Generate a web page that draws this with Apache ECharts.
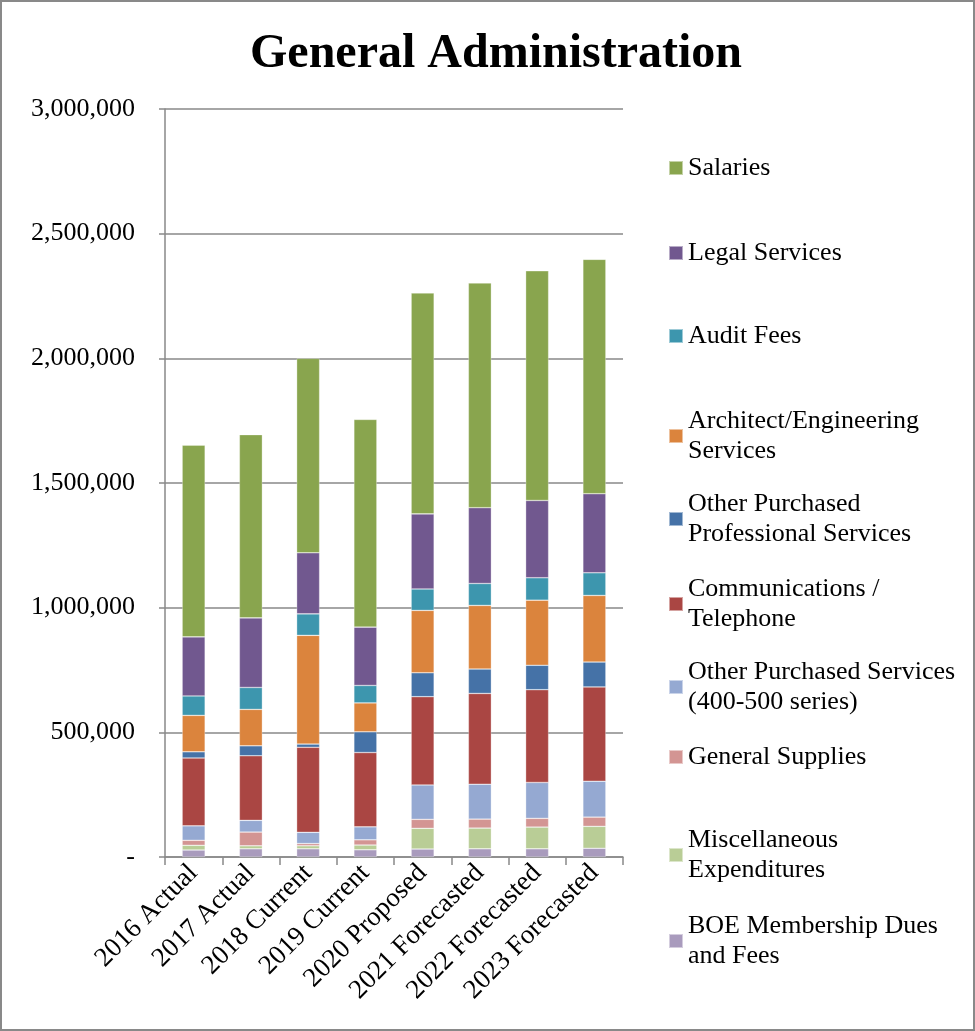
<!DOCTYPE html>
<html>
<head>
<meta charset="utf-8">
<script src="https://cdn.jsdelivr.net/npm/echarts@6/dist/echarts.min.js"></script>
<style>
html,body{margin:0;padding:0;background:#fff;}
#main{width:975px;height:1031px;}
</style>
</head>
<body>
<div id="main"></div>
<script>
// categories and values
var years = ['2016 Actual','2017 Actual','2018 Current','2019 Current','2020 Proposed','2021 Forecasted','2022 Forecasted','2023 Forecasted'];

var boeDues      = [28000, 33000, 33000, 29000, 32000, 33000, 33000, 35000];
var miscExp      = [19000, 12000, 12000, 19000, 83000, 83000, 87000, 88000];
var genSupplies  = [20000, 55000, 9000, 21000, 36000, 36000, 35000, 37000];
var otherPurch   = [58000, 47000, 45000, 52000, 138000, 140000, 144000, 144000];
var communic     = [272000, 259000, 341000, 298000, 354000, 364000, 372000, 378000];
var otherProf    = [25000, 40000, 13000, 83000, 96000, 98000, 98000, 100000];
var archEng      = [146000, 146000, 436000, 116000, 250000, 255000, 261000, 267000];
var auditFees    = [78000, 88000, 86000, 70000, 86000, 88000, 90000, 91000];
var legalServ    = [237000, 279000, 245000, 234000, 301000, 304000, 310000, 317000];
var salaries     = [769000, 735000, 780000, 833000, 886000, 901000, 921000, 940000];

var yTicks = [0, 500000, 1000000, 1500000, 2000000, 2500000, 3000000];

// stacked bottom -> top
var seriesList = [
	{name:'BOE Membership Dues and Fees', label:'BOE Membership Dues\nand Fees', data:boeDues, color:'#A99BBD'},
	{name:'Miscellaneous Expenditures', label:'Miscellaneous\nExpenditures', data:miscExp, color:'#B9CD96'},
	{name:'General Supplies', label:'General Supplies', data:genSupplies, color:'#D39593'},
	{name:'Other Purchased Services (400-500 series)', label:'Other Purchased Services\n(400-500 series)', data:otherPurch, color:'#95A9D2'},
	{name:'Communications / Telephone', label:'Communications /\nTelephone', data:communic, color:'#AA4643'},
	{name:'Other Purchased Professional Services', label:'Other Purchased\nProfessional Services', data:otherProf, color:'#4572A7'},
	{name:'Architect/Engineering Services', label:'Architect/Engineering\nServices', data:archEng, color:'#DB843D'},
	{name:'Audit Fees', label:'Audit Fees', data:auditFees, color:'#3D96AE'},
	{name:'Legal Services', label:'Legal Services', data:legalServ, color:'#71588F'},
	{name:'Salaries', label:'Salaries', data:salaries, color:'#89A54E'}
];

// legend item vertical centers, same order as seriesList
var legendCenters = [940, 854, 756, 686, 603, 518, 435, 335, 252, 167];

var fontFam = '"Liberation Serif","Times New Roman",serif';
var axisGray = '#898989';

var legends = seriesList.map(function(s, i){
	var lines = s.label.split('\n').length;
	return {
		data:[s.name],
		orient:'vertical',
		left:663,
		top:legendCenters[i] - lines*15 - 4,
		itemWidth:14,
		itemHeight:14,
		icon:'rect',
		selectedMode:false,
		formatter:function(){ return s.label; },
		textStyle:{fontFamily:fontFam, fontSize:26, color:'#000', lineHeight:30}
	};
});

var chart = echarts.init(document.getElementById('main'));
chart.setOption({
	animation:false,
	backgroundColor:'#fff',
	title:{
		text:'General Administration',
		left:245,
		top:26,
		textStyle:{fontFamily:fontFam, fontSize:48, fontWeight:'bold', color:'#000'}
	},
	graphic:[{
		type:'rect',
		shape:{x:1, y:1, width:973, height:1029},
		style:{fill:null, stroke:axisGray, lineWidth:2},
		silent:true
	}],
	legend:legends,
	grid:{left:165, right:352, top:109, bottom:174},
	xAxis:{
		type:'category',
		data:years,
		axisLine:{lineStyle:{color:axisGray, width:1.5}},
		axisTick:{show:true, length:8, lineStyle:{color:axisGray, width:1.5}},
		axisLabel:{
			rotate:45,
			interval:0,
			margin:12,
			fontFamily:fontFam,
			fontSize:27,
			color:'#000'
		}
	},
	yAxis:{
		type:'value',
		min:yTicks[0],
		max:yTicks[yTicks.length-1],
		interval:yTicks[1]-yTicks[0],
		axisLine:{show:true, lineStyle:{color:axisGray, width:1.5}},
		axisTick:{show:true, length:6, lineStyle:{color:axisGray, width:1.5}},
		splitLine:{lineStyle:{color:axisGray, width:1.5}},
		axisLabel:{
			margin:30,
			fontFamily:fontFam,
			fontSize:26,
			color:'#000',
			formatter:function(v){ return v === 0 ? '-' : v.toLocaleString('en-US'); }
		}
	},
	series:seriesList.map(function(s){
		return {
			name:s.name,
			type:'bar',
			stack:'total',
			barWidth:23,
			data:s.data,
			itemStyle:{color:s.color, borderColor:'rgba(255,255,255,0.5)', borderWidth:0.6}
		};
	})
});
</script>
</body>
</html>
